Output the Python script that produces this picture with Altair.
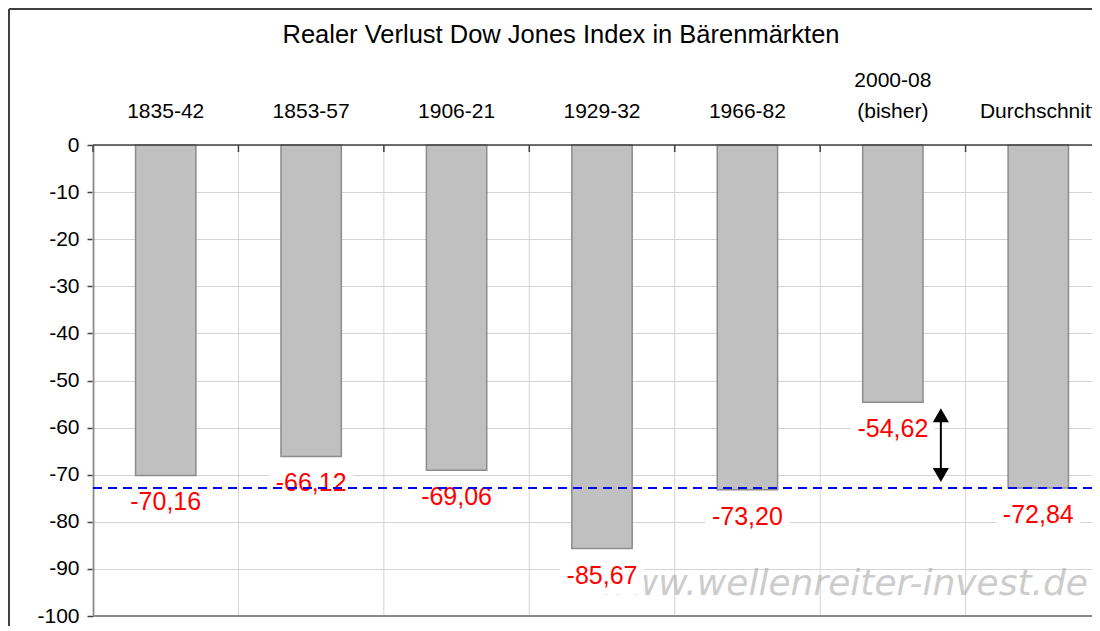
import altair as alt
import pandas as pd

categories = ["1835-42", "1853-57", "1906-21", "1929-32", "1966-82", "2000-08 (bisher)", "Durchschnitt"]
label_line1 = ["", "", "", "", "", "2000-08", ""]
label_line2 = ["1835-42", "1853-57", "1906-21", "1929-32", "1966-82", "(bisher)", "Durchschnitt"]
values = [-70.16, -66.12, -69.06, -85.67, -73.20, -54.62, -72.84]
average = -72.84
y_ticks = [0, -10, -20, -30, -40, -50, -60, -70, -80, -90, -100]
title_text = "Realer Verlust Dow Jones Index in Bärenmärkten"
watermark = "www.wellenreiter-invest.de"

labels = [f"{v:.2f}".replace(".", ",") for v in values]
df = pd.DataFrame({"cat": categories, "value": values, "label": labels,
                   "l1": label_line1, "l2": label_line2})
df_avg = pd.DataFrame({"avg": [average]})
df_arrow = pd.DataFrame({"cat": [categories[5]], "top": [values[5]], "bottom": [average]})
df_title = pd.DataFrame({"t": [title_text]})
df_wm = pd.DataFrame({"t": [watermark]})

FULL_W = 1018          # full plot width (extends past the window edge)
VIS_W, H = 999, 471    # visible part of the plot
STEP = FULL_W / len(categories)
FONT = "Liberation Sans"
GRID = "#d4d4d4"
DARK = "#404040"

xscale = alt.Scale(paddingInner=0.585, paddingOuter=0.2925, range=[0, FULL_W])
X = alt.X("cat:N", sort=categories, scale=xscale, axis=None)

yscale = alt.Scale(domain=[-100, 0], nice=False)
yaxis = alt.Axis(values=y_ticks, title=None, labelFontSize=21, labelFont=FONT, labelColor="black",
                 labelExpr="'' + datum.value", tickSize=6, tickColor=DARK, tickWidth=1.5,
                 domainColor=DARK, domainWidth=1.5, gridColor=GRID, gridWidth=1, labelPadding=8)


def Y(field):
    return alt.Y(f"{field}:Q", scale=yscale, axis=yaxis)


base = alt.Chart(df)

vgrid = base.mark_rule(color=GRID, strokeWidth=1, xOffset=-STEP / 2).encode(
    x=X, y=alt.value(0), y2=alt.value(H))

bars = base.mark_bar(color="#c0c0c0", stroke="#8c8c8c", strokeWidth=1.5).encode(x=X, y=Y("value"))

wm = alt.Chart(df_wm).mark_text(align="right", baseline="alphabetic", font="DejaVu Sans",
                                fontStyle="italic", fontSize=36, color="#9a9a9a",
                                opacity=0.5).encode(
    text="t:N", x=alt.value(995), y=alt.value(450))

boxes = base.mark_bar(color="white", width=84, yOffset=10, y2Offset=46).encode(
    x=X, y=Y("value"), y2=alt.Y2("value"))

texts = base.mark_text(color="#ff0000", fontSize=25, font=FONT, baseline="middle", dy=27).encode(
    x=X, y=Y("value"), text="label:N")

avg_rule = alt.Chart(df_avg).mark_rule(color="#0000ff", strokeWidth=2, strokeDash=[9, 6]).encode(
    y=Y("avg"))

shaft = alt.Chart(df_arrow).mark_rule(color="black", strokeWidth=2, xOffset=48,
                                      yOffset=10, y2Offset=-10).encode(
    x=X, y=Y("top"), y2=alt.Y2("bottom"))
head_up = alt.Chart(df_arrow).mark_point(shape="triangle-up", filled=True, color="black",
                                         size=260, opacity=1, xOffset=48, yOffset=13).encode(
    x=X, y=Y("top"))
head_down = alt.Chart(df_arrow).mark_point(shape="triangle-down", filled=True, color="black",
                                           size=260, opacity=1, xOffset=48, yOffset=-13).encode(
    x=X, y=Y("bottom"))

top_ticks = base.mark_rule(color=DARK, strokeWidth=1.5, xOffset=-STEP / 2).encode(
    x=X, y=alt.value(0), y2=alt.value(7))

top_line = alt.Chart(df_title).mark_rule(color=DARK, strokeWidth=1.5).encode(
    x=alt.value(0), x2=alt.value(VIS_W), y=alt.value(0))

cat_l2 = base.mark_text(fontSize=21, font=FONT, color="black", baseline="alphabetic").encode(
    x=X, y=alt.value(-27), text="l2:N")
cat_l1 = base.mark_text(fontSize=21, font=FONT, color="black", baseline="alphabetic").encode(
    x=X, y=alt.value(-58), text="l1:N")

bottom_line = alt.Chart(df_title).mark_rule(color="#8a8a8a", strokeWidth=2).encode(
    x=alt.value(0), x2=alt.value(VIS_W), y=alt.value(H))

title = alt.Chart(df_title).mark_text(fontSize=25.5, font=FONT, color="black",
                                      baseline="alphabetic", align="center").encode(
    text="t:N", x=alt.value(468), y=alt.value(-102))

border_left = alt.Chart(df_title).mark_rule(color=DARK, strokeWidth=2).encode(
    x=alt.value(-84), y=alt.value(-136), y2=alt.value(H + 10))
border_top = alt.Chart(df_title).mark_rule(color=DARK, strokeWidth=2).encode(
    x=alt.value(-84), x2=alt.value(VIS_W), y=alt.value(-136))

chart = alt.layer(
    vgrid, bars, wm, boxes, texts, avg_rule, shaft, head_up, head_down, top_ticks, top_line,
    cat_l2, cat_l1, bottom_line, title, border_left, border_top
).properties(
    width=VIS_W, height=H, background="white",
    autosize=alt.AutoSizeParams(type="none"),
    padding={"left": 85, "top": 137, "right": 0, "bottom": 10},
).configure_view(strokeWidth=0)

chart.save("out.html", embed_options={"renderer": "svg", "actions": False})
